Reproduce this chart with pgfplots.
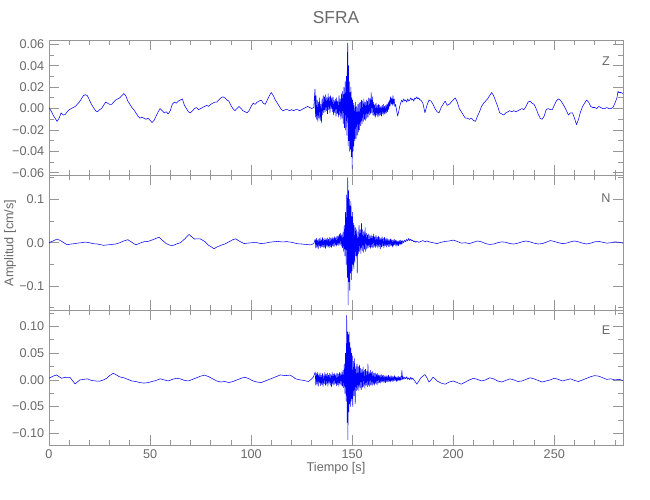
\documentclass[border=0pt]{standalone}
\usepackage{pgfplots}
\pgfplotsset{compat=1.18}
\usepackage{fontspec}
\setmainfont{Liberation Sans}
\definecolor{axgray}{RGB}{150,150,150}
\definecolor{txtgray}{RGB}{105,105,105}
\pgfplotsset{seis/.style={
  scale only axis, width=430.5pt, height=101.25pt,
  xmin=0, xmax=284,
  scaled y ticks=false, scaled x ticks=false,
  axis line style={axgray, line width=0.6pt},
  every tick/.style={axgray, line width=0.6pt},
  major tick length=7.5pt, minor tick length=3.75pt,
  tick align=inside,
  xtick={0,50,...,250}, minor xtick={10,20,30,40,60,70,80,90,110,120,130,140,160,170,180,190,210,220,230,240,260,270,280},
  tick label style={font=\fontsize{9.5}{11}\selectfont, text=txtgray},
  /pgf/number format/assume math mode=true,
  trace/.style={blue, line width=0.4pt, line join=round}
}}
\begin{document}
\begin{tikzpicture}
\path[use as bounding box] (0,0) rectangle (487.5pt,375pt);
% ---------------- Z ----------------
\begin{axis}[seis, at={(36.75pt,243.75pt)}, anchor=south west,
  ymin=-0.062, ymax=0.064, xticklabels={},
  ytick={-0.06,-0.04,-0.02,0,0.02,0.04,0.06},
  yticklabels={−0.06,−0.04,−0.02,0.00,0.02,0.04,0.06},
  minor ytick={-0.05,-0.03,-0.01,0.01,0.03,0.05}]
\addplot[trace] coordinates {
(0,0.0007)(1,-0.002)(2,-0.006)(3,-0.009)(4,-0.012)(5,-0.009)(6,-0.004)(7,-0.006)(8,-0.0056)(9,-0.003)
(10,-0.001)(11,0.000)(12,0.001)(13,0.002)(14,0.004)(15,0.006)(16,0.009)(17,0.012)(18,0.013)(19,0.012)
(20,0.008)(21,0.004)(22,0.001)(23,-0.002)(24,-0.003)(25,-0.001)(26,0.000)(27,0.003)(28,0.006)(29,0.005)
(30,0.004)(31,0.004)(32,0.006)(33,0.008)(34,0.009)(35,0.010)(36,0.012)(37,0.014)(38,0.012)(39,0.007)
(40,0.004)(41,0.001)(42,-0.001)(43,-0.004)(44,-0.007)(45,-0.009)(46,-0.008)(47,-0.009)(48,-0.010)(49,-0.009)
(50,-0.011)(51,-0.013)(52,-0.011)(53,-0.007)(54,-0.003)(55,0.000)(56,-0.002)(57,-0.004)(58,-0.003)(59,-0.005)
(60,-0.002)(61,0.004)(62,0.006)(63,0.005)(64,0.007)(65,0.008)(66,0.009)(67,0.003)(68,0.000)(69,-0.003)
(70,-0.004)(71,-0.002)(72,0.000)(73,0.001)(74,-0.001)(75,0.000)(76,0.001)(77,0.002)(78,0.003)(79,0.002)
(80,0.004)(81,0.005)(82,0.006)(83,0.006)(84,0.008)(85,0.010)(86,0.011)(87,0.010)(88,0.008)(89,0.007)
(90,0.003)(91,0.000)(92,-0.002)(93,0.000)(94,0.002)(95,0.000)(96,-0.002)(97,-0.003)(98,-0.004)(99,-0.002)
(100,0.002)(101,0.005)(102,0.004)(103,0.006)(104,0.007)(105,0.008)(106,0.005)(107,0.004)(108,0.008)(109,0.012)
(110,0.015)(111,0.012)(112,0.008)(113,0.005)(114,0.002)(115,-0.001)(116,-0.002)(117,-0.001)(118,-0.001)(119,-0.002)
(120,-0.001)(121,-0.002)(122,-0.001)(123,-0.001)(124,-0.002)(125,-0.001)(126,0.000)(127,0.001)(128,0.002)(129,0.001)
(130,0.000)(131,0.001)
(131.6,0.018)(131.8,-0.008)(132.1,0.012)(132.4,-0.010)(132.7,0.008)(133.0,-0.012)(133.3,0.006)(133.6,-0.009)
(133.9,0.010)(134.2,-0.011)(134.5,0.004)(134.8,-0.013)(135.1,0.009)(135.4,-0.006)(135.7,0.012)(136.0,-0.004)
(136.3,0.011)(136.6,-0.003)(136.9,0.013)(137.2,-0.002)(137.5,0.010)(137.8,-0.005)(138.1,0.014)(138.4,-0.001)
(138.7,0.011)(139.0,-0.004)(139.3,0.012)(139.6,0.000)(139.9,0.010)(140.2,-0.003)(140.5,0.011)(140.8,-0.006)
(141.1,0.008)(141.4,-0.004)(141.7,0.009)(142.0,-0.007)(142.3,0.010)(142.6,-0.005)(142.9,0.007)(143.2,-0.008)
(143.5,0.012)(143.8,-0.006)(144.1,0.009)(144.4,-0.010)(144.7,0.014)(145.0,-0.009)(145.3,0.016)(145.6,-0.014)
(145.9,0.020)(146.2,-0.018)(146.5,0.025)(146.8,-0.020)(147.1,0.030)(147.4,-0.025)(147.6,0.045)(147.8,0.061)
(148.0,-0.035)(148.2,0.040)(148.4,-0.030)(148.6,0.025)(148.8,-0.040)(149.0,0.015)(149.2,-0.038)(149.4,0.020)
(149.6,-0.045)(149.8,0.010)(150.0,-0.056)(150.2,0.008)(150.4,-0.040)(150.6,0.005)(150.8,-0.035)(151.0,0.003)
(151.3,-0.030)(151.6,0.006)(151.9,-0.028)(152.2,0.002)(152.5,-0.025)(152.8,0.004)(153.1,-0.022)(153.4,0.005)
(153.7,-0.020)(154.0,0.006)(154.3,-0.016)(154.6,0.008)(154.9,-0.014)(155.2,0.007)(155.5,-0.012)(155.8,0.009)
(156.1,-0.010)(156.4,0.006)(156.7,-0.011)(157.0,0.008)(157.3,-0.009)(157.6,0.007)(157.9,-0.008)(158.2,0.010)
(158.5,-0.006)(158.8,0.009)(159.1,-0.005)(159.4,0.015)(159.7,-0.004)(160.0,0.011)(160.3,-0.006)(160.6,0.006)
(160.9,-0.007)(161.2,0.004)(161.5,-0.008)(161.8,0.005)(162.1,-0.006)(162.4,0.003)(162.7,-0.008)(163.0,0.004)
(163.3,-0.007)(163.6,0.003)(163.9,-0.006)(164.2,0.002)(164.5,-0.007)(164.8,0.003)(165.1,-0.005)(165.4,0.004)
(165.7,-0.006)(166.0,0.002)(166.3,-0.005)(166.6,0.003)(166.9,-0.004)(167.2,0.004)(167.5,-0.003)(167.8,0.006)
(168.1,-0.001)(168.4,0.008)(168.7,0.002)(169.0,0.011)(169.3,0.004)(169.6,0.010)(169.9,0.003)(170.2,0.012)
(170.5,0.004)(170.8,0.009)(171.1,0.002)(171.5,0.004)(172.0,-0.002)(172.5,-0.007)(173.0,-0.003)(173.5,0.002)
(174.0,0.005)(174.5,0.008)(175.0,0.006)(175.5,0.009)(176.0,0.007)(176.5,0.008)(177.0,0.006)(177.5,0.009)
(178.0,0.007)(178.5,0.008)(179.0,0.010)(179.5,0.008)(180.0,0.009)(180.5,0.007)(181.0,0.010)(181.5,0.009)
(182.0,0.011)(182.5,0.009)(183.0,0.010)(183.5,0.008)(184.0,0.008)(185,0.005)(186,-0.004)(187,0.003)(188,0.008)
(189,0.007)(190,0.004)(191,0.000)(192,-0.003)(193,-0.004)(194,0.001)(195,0.004)(196,0.007)(197,0.003)(198,0.004)
(199,0.006)(200,0.008)(201,0.010)(202,0.006)(203,0.000)(204,-0.003)(205,-0.006)(206,-0.009)(207,-0.009)(208,-0.010)
(209,-0.009)(210,-0.011)(211,-0.012)(212,-0.007)(213,-0.003)(214,0.002)(215,0.005)(216,0.007)(217,0.009)(218,0.012)
(219,0.015)(220,0.012)(221,0.007)(222,0.002)(223,-0.004)(224,-0.005)(225,-0.006)(226,-0.004)(227,-0.003)(228,-0.002)
(229,-0.003)(230,-0.002)(231,-0.003)(232,-0.002)(233,-0.001)(234,0.000)(235,-0.001)(236,0.002)(237,0.006)(238,0.007)
(239,0.005)(240,0.004)(241,0.000)(242,-0.005)(243,-0.009)(244,-0.010)(245,-0.007)(246,-0.001)(247,0.000)(248,-0.001)
(249,-0.001)(250,0.003)(251,0.007)(252,0.009)(253,0.008)(254,0.005)(255,0.002)(256,-0.002)(257,-0.006)(258,-0.004)
(259,-0.004)(260,-0.009)(261,-0.015)(262,-0.010)(263,-0.003)(264,0.002)(265,0.005)(266,0.008)(267,0.006)(268,0.002)
(269,0.001)(270,0.001)(271,0.000)(272,0.002)(273,0.001)(274,0.000)(275,0.000)(276,0.001)(277,0.000)(278,0.000)
(279,0.001)(280,0.005)(281,0.010)(281.5,0.016)(282,0.015)(283,0.015)(284,0.014)
};
\end{axis}
% ---------------- N ----------------
\begin{axis}[seis, at={(36.75pt,142.5pt)}, anchor=south west,
  ymin=-0.155, ymax=0.156, xticklabels={},
  ytick={-0.1,0,0.1},
  yticklabels={−0.1,0.0,0.1},
  minor ytick={-0.15,-0.05,0.05,0.15}]
\addplot[trace] coordinates {
(0,0.000)(2,0.004)(4,0.0085)(6,0.004)(8,-0.002)(9,-0.0046)(11,-0.003)(13,-0.002)(14,-0.001)(16,0.000)
(18,0.0015)(20,0.000)(22,-0.0023)(24,-0.003)(26,-0.005)(27,-0.006)(29,-0.005)(31,-0.004)(33,-0.003)(35,0.000)
(37,0.004)(39,0.007)(41,0.001)(43,-0.005)(45,-0.001)(47,0.0023)(49,0.003)(50,0.0046)(52,0.008)(54.5,0.013)
(56,0.006)(58,-0.002)(60,-0.006)(61,-0.007)(63,-0.003)(65,0.000)(67,0.008)(69.3,0.019)(71,0.012)(72,0.0085)
(74,0.009)(75,0.0085)(77,0.003)(79,-0.006)(81.7,-0.0138)(83,-0.010)(85,-0.006)(87,-0.003)(89,0.002)(91,0.007)
(92.4,0.009)(94,0.004)(96.5,-0.002)(98,-0.001)(100.6,0.000)(102,0.001)(104.8,-0.002)(107,-0.001)(109,0.001)
(111.4,0.0023)(113,0.003)(115,0.002)(118,0.0023)(120,0.001)(122.9,-0.0023)(125,-0.003)(127,-0.004)(129.5,-0.005)(131,-0.002)
(131.7,0.008)(132.0,-0.012)(132.3,0.010)(132.6,-0.010)(132.9,0.006)(133.2,-0.014)(133.5,0.009)(133.8,-0.008)
(134.1,0.011)(134.4,-0.012)(134.7,0.007)(135.0,-0.009)(135.3,0.012)(135.6,-0.011)(135.9,0.008)(136.2,-0.010)
(136.5,0.010)(136.8,-0.013)(137.1,0.009)(137.4,-0.008)(137.7,0.011)(138.0,-0.010)(138.3,0.008)(138.6,-0.012)
(138.9,0.012)(139.2,-0.009)(139.5,0.010)(139.8,-0.011)(140.1,0.013)(140.4,-0.007)(140.7,0.011)(141.0,-0.009)
(141.3,0.014)(141.6,-0.006)(141.9,0.012)(142.2,-0.008)(142.5,0.015)(142.8,-0.005)(143.1,0.016)(143.4,-0.007)
(143.7,0.020)(144.0,-0.004)(144.3,0.022)(144.6,-0.008)(144.9,0.018)(145.2,-0.012)(145.5,0.025)(145.8,-0.020)
(146.1,0.040)(146.4,-0.030)(146.7,0.070)(147.0,-0.050)(147.3,0.110)(147.6,-0.080)(147.8,0.150)(148.0,-0.143)
(148.2,0.120)(148.4,-0.090)(148.6,0.100)(148.8,-0.110)(149.0,0.085)(149.2,-0.070)(149.4,0.095)(149.6,-0.085)
(149.8,0.060)(150.0,-0.065)(150.2,0.070)(150.4,-0.050)(150.6,0.045)(150.8,-0.060)(151.0,0.040)(151.3,-0.045)
(151.6,0.035)(151.9,-0.030)(152.2,0.030)(152.5,-0.070)(152.8,0.025)(153.1,-0.025)(153.4,0.040)(153.7,-0.020)
(154.0,0.030)(154.3,-0.025)(154.6,0.045)(154.9,-0.018)(155.2,0.030)(155.5,-0.022)(155.8,0.025)(156.1,-0.015)
(156.4,0.035)(156.7,-0.020)(157.0,0.022)(157.3,-0.014)(157.6,0.018)(157.9,-0.012)(158.2,0.020)(158.5,-0.010)
(158.8,0.016)(159.1,-0.013)(159.4,0.018)(159.7,-0.010)(160.0,0.015)(160.3,-0.012)(160.6,0.020)(160.9,-0.009)
(161.2,0.014)(161.5,-0.011)(161.8,0.017)(162.1,-0.008)(162.4,0.013)(162.7,-0.012)(163.0,0.015)(163.3,-0.009)
(163.6,0.012)(163.9,-0.014)(164.2,0.011)(164.5,-0.010)(164.8,0.014)(165.1,-0.008)(165.4,0.010)(165.7,-0.012)
(166.0,0.012)(166.3,-0.007)(166.6,0.009)(166.9,-0.010)(167.2,0.011)(167.5,-0.006)(167.8,0.008)(168.1,-0.009)
(168.4,0.007)(168.7,-0.008)(169.0,0.009)(169.3,-0.006)(169.6,0.007)(169.9,-0.010)(170.2,0.006)(170.5,-0.007)
(170.8,0.008)(171.1,-0.005)(171.4,0.006)(171.7,-0.008)(172.0,0.005)(172.3,-0.006)(172.6,0.004)(172.9,-0.007)
(173.2,0.005)(173.5,-0.004)(173.8,0.006)(174.1,-0.005)(174.4,0.004)(174.7,-0.003)(175.0,0.005)(175.5,0.000)
(176.0,0.006)(176.5,0.002)(177.0,0.008)(177.5,0.004)(178.0,0.010)(178.5,0.005)(179.0,0.008)(179.5,0.004)
(180.0,0.006)(180.5,0.002)(181.0,0.004)(181.5,0.001)(182.0,0.003)(183,0.001)(184,0.003)(185,0.005)(186,0.002)
(187,0.004)(188,0.002)(190,0.000)(192,-0.002)(194,0.001)(196,0.003)(198,0.004)(200,0.006)(202,0.003)(204,-0.001)
(206,0.000)(208,-0.002)(210,0.001)(212,0.004)(214,0.002)(216,-0.002)(218,-0.004)(220,-0.003)(222,0.000)(224,0.002)
(226,0.001)(228,-0.002)(230,-0.003)(232,-0.001)(234,0.002)(236,0.004)(238,0.002)(240,-0.001)(242,-0.003)(244,-0.002)
(246,0.001)(248,0.005)(250,0.003)(252,0.000)(254,-0.002)(256,-0.001)(258,0.002)(260,0.004)(262,0.002)(264,-0.001)
(266,-0.003)(268,-0.001)(270,0.002)(272,0.003)(274,0.001)(276,-0.001)(278,0.000)(280,0.002)(282,0.001)(284,-0.001)
};
\end{axis}
% ---------------- E ----------------
\begin{axis}[seis, at={(36.75pt,41.25pt)}, anchor=south west,
  ymin=-0.122, ymax=0.131,
  xticklabels={0,50,100,150,200,250},
  ytick={-0.1,-0.05,0,0.05,0.1},
  yticklabels={−0.10,−0.05,0.00,0.05,0.10},
  minor ytick={-0.075,-0.025,0.025,0.075,0.125}]
\addplot[trace] coordinates {
(0,0.003)(1,0.005)(2,0.007)(3.8,0.0093)(5,0.006)(6.3,0.003)(8,0.005)(10.4,0.0047)(12.9,-0.0075)(14,-0.004)
(15.3,0.000)(17,0.001)(19,0.0019)(21,-0.001)(23,-0.002)(25,-0.0025)(27,0.000)(28.5,0.003)(30,0.008)(31.8,0.0124)
(33,0.010)(35,0.0056)(37,0.004)(39,0.001)(41,-0.002)(43,-0.003)(45,-0.005)(47,-0.006)(49,-0.005)(51,-0.003)
(53,-0.001)(55,0.002)(57,0.000)(59,-0.002)(61,0.001)(63,0.003)(65,0.002)(67,-0.001)(69,-0.002)(71,0.001)
(73,0.004)(75,0.007)(77,0.009)(79,0.006)(81,0.002)(83,-0.002)(85,-0.004)(87,-0.003)(89,-0.005)(91,-0.003)
(93,0.000)(95,0.003)(97,0.005)(99,0.002)(101,-0.002)(103,-0.004)(105,-0.005)(107,-0.002)(109,0.001)(111,0.004)
(113,0.007)(114.4,0.0093)(117,0.008)(119.3,0.009)(121,0.005)(122,0.002)(124.3,0.000)(126,-0.001)(128.4,-0.003)(130,0.002)(130.9,0.006)
(131.7,0.015)(132.0,-0.010)(132.3,0.012)(132.6,-0.008)(132.9,0.014)(133.2,-0.012)(133.5,0.010)(133.8,-0.006)
(134.1,0.013)(134.4,-0.011)(134.7,0.009)(135.0,-0.009)(135.3,0.012)(135.6,-0.012)(135.9,0.008)(136.2,-0.007)
(136.5,0.014)(136.8,-0.010)(137.1,0.011)(137.4,-0.008)(137.7,0.013)(138.0,-0.012)(138.3,0.009)(138.6,-0.006)
(138.9,0.012)(139.2,-0.010)(139.5,0.010)(139.8,-0.013)(140.1,0.014)(140.4,-0.008)(140.7,0.011)(141.0,-0.010)
(141.3,0.012)(141.6,-0.007)(141.9,0.010)(142.2,-0.011)(142.5,0.013)(142.8,-0.009)(143.1,0.011)(143.4,-0.012)
(143.7,0.014)(144.0,-0.008)(144.3,0.012)(144.6,-0.010)(144.9,0.015)(145.2,-0.012)(145.5,0.018)(145.8,-0.015)
(146.1,0.030)(146.4,-0.025)(146.7,0.050)(147.0,-0.040)(147.3,0.121)(147.5,-0.080)(147.7,0.090)(147.9,-0.112)
(148.1,0.085)(148.3,-0.060)(148.5,0.090)(148.7,-0.045)(148.9,0.070)(149.1,-0.050)(149.3,0.060)(149.5,-0.040)
(149.7,0.050)(149.9,-0.035)(150.1,0.045)(150.3,-0.050)(150.6,0.035)(150.9,-0.030)(151.2,0.040)(151.5,-0.045)
(151.8,0.025)(152.1,-0.020)(152.4,0.030)(152.7,-0.018)(153.0,0.025)(153.3,-0.020)(153.6,0.028)(153.9,-0.015)
(154.2,0.022)(154.5,-0.018)(154.8,0.020)(155.1,-0.014)(155.4,0.024)(155.7,-0.012)(156.0,0.018)(156.3,-0.016)
(156.6,0.020)(156.9,-0.010)(157.2,0.016)(157.5,-0.013)(157.8,0.030)(158.1,-0.010)(158.4,0.015)(158.7,-0.012)
(159.0,0.018)(159.3,-0.009)(159.6,0.014)(159.9,-0.011)(160.2,0.016)(160.5,-0.008)(160.8,0.012)(161.1,-0.010)
(161.4,0.013)(161.7,-0.007)(162.0,0.011)(162.3,-0.009)(162.6,0.012)(162.9,-0.006)(163.2,0.010)(163.5,-0.005)
(163.8,0.009)(164.1,-0.006)(164.4,0.010)(164.7,-0.004)(165.0,0.008)(165.3,-0.005)(165.6,0.009)(165.9,-0.004)
(166.2,0.007)(166.5,-0.005)(166.8,0.008)(167.1,-0.003)(167.4,0.007)(167.7,-0.004)(168.0,0.009)(168.3,-0.003)
(168.6,0.006)(168.9,-0.004)(169.2,0.008)(169.5,-0.002)(169.8,0.007)(170.1,-0.003)(170.4,0.006)(170.7,-0.002)
(171.0,0.008)(171.3,-0.001)(171.6,0.006)(171.9,-0.003)(172.2,0.005)(172.5,-0.002)(172.8,0.007)(173.1,-0.001)
(173.4,0.005)(173.7,-0.002)(174.0,0.006)(174.3,0.000)(174.6,0.018)(174.9,0.001)(175.2,0.006)(175.6,0.001)
(176.0,0.005)(176.5,0.002)(177.0,0.006)(177.5,0.001)(178.0,0.004)(178.5,0.000)(179.0,0.005)(179.5,0.001)
(180.0,0.003)(181.0,-0.002)(182.0,-0.008)(183.0,-0.002)(184.0,0.004)(185.0,0.007)(186.0,0.010)(187.0,0.004)
(188.0,-0.004)(189.0,0.000)(190.0,0.005)(191.0,0.002)(192.0,-0.002)(194,-0.006)(196,-0.008)(198,-0.004)(200,-0.002)
(202,-0.005)(204,-0.008)(206,-0.004)(208,0.000)(210,0.003)(212,0.001)(214,-0.002)(216,0.000)(218,0.004)(220,0.002)
(222,-0.002)(224,-0.004)(226,-0.001)(228,0.002)(230,0.000)(232,-0.003)(234,-0.002)(236,0.001)(238,0.004)(240,0.002)
(242,-0.001)(244,-0.004)(246,-0.002)(248,0.000)(250,0.003)(252,0.001)(254,-0.002)(256,0.000)(258,0.002)(260,-0.001)
(262,-0.003)(264,0.000)(266,0.003)(268,0.006)(270,0.008)(272,0.007)(274,0.004)(276,0.001)(278,0.002)(280,0.000)
(282,0.001)(284,-0.001)
};
\end{axis}
% ---------------- labels ----------------
\node[text=txtgray, font=\fontsize{13}{15}\selectfont] at (252pt,361.5pt) {SFRA};
\node[text=txtgray, font=\fontsize{9.5}{11}\selectfont] at (252pt,24pt) {Tiempo [s]};
\node[text=txtgray, font=\fontsize{9.5}{11}\selectfont, rotate=90] at (7.5pt,192.75pt) {Amplitud [cm/s]};
\node[text=txtgray, font=\fontsize{9.5}{11}\selectfont] at (454.5pt,329.25pt) {Z};
\node[text=txtgray, font=\fontsize{9.5}{11}\selectfont] at (454.5pt,226.5pt) {N};
\node[text=txtgray, font=\fontsize{9.5}{11}\selectfont] at (454.5pt,127.5pt) {E};
\end{tikzpicture}
\end{document}
